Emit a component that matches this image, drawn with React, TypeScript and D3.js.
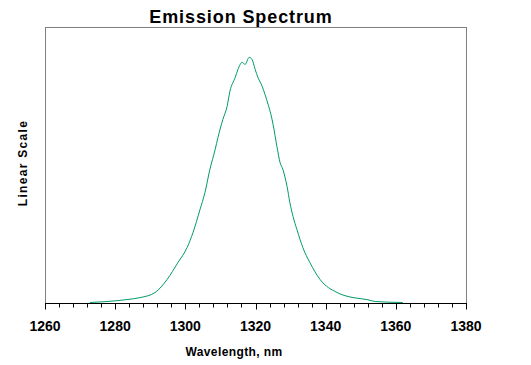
import React, { useEffect, useRef } from "react";
import * as d3 from "d3";

// wavelength (nm)
const wavelengths = [
  1272.8, 1277.7, 1283.4, 1287.1, 1291.4, 1294.8, 1297.9, 1300.5, 1302.2, 1304.2,
  1305.6, 1307.0, 1308.5, 1309.3, 1310.7, 1311.9, 1312.7, 1314.2, 1315.0, 1316.2,
  1317.0, 1318.2, 1319.0, 1319.9, 1320.7, 1321.9, 1322.7, 1323.6, 1324.4, 1325.0,
  1326.1, 1327.0, 1327.8, 1329.0, 1329.8, 1330.7, 1331.8, 1332.7, 1333.5, 1335.5,
  1338.4, 1343.2, 1347.8, 1351.8, 1354.1, 1362.0,
];
// normalized intensity
const intensity = [
  0, 0.004, 0.012, 0.02, 0.041, 0.094, 0.163, 0.224, 0.286, 0.38,
  0.449, 0.543, 0.624, 0.673, 0.747, 0.8, 0.861, 0.918, 0.951, 0.98,
  0.971, 1.0, 0.992, 0.951, 0.918, 0.882, 0.849, 0.808, 0.767, 0.727,
  0.637, 0.571, 0.543, 0.473, 0.408, 0.351, 0.298, 0.257, 0.224, 0.163,
  0.094, 0.041, 0.02, 0.012, 0.004, 0,
];
const xMajorTicks = [1260, 1280, 1300, 1320, 1340, 1360, 1380];

export default function App() {
  const ref = useRef<SVGSVGElement>(null);

  useEffect(() => {
    const width = 531;
    const height = 365;
    const margin = { top: 27, right: 65, bottom: 62, left: 45 };
    const font = "Arial, 'Liberation Sans', sans-serif";

    const svg = d3.select(ref.current);
    svg.selectAll("*").remove();

    const x = d3.scaleLinear().domain([1260, 1380]).range([margin.left, width - margin.right]);
    const y = d3.scaleLinear().domain([0, 1.126]).range([height - margin.bottom, margin.top]);

    // plot frame
    svg.append("rect")
      .attr("x", margin.left + 0.5)
      .attr("y", margin.top + 0.5)
      .attr("width", width - margin.right - margin.left)
      .attr("height", height - margin.bottom - margin.top)
      .attr("fill", "none")
      .attr("stroke", "#808080")
      .attr("stroke-width", 1);

    const data = wavelengths.map((w, i) => ({ w, v: intensity[i] }));
    const line = d3.line<{ w: number; v: number }>()
      .x((d) => x(d.w))
      .y((d) => y(d.v) - 0.5)
      .curve(d3.curveMonotoneX);

    svg.append("path")
      .datum(data)
      .attr("d", line)
      .attr("fill", "none")
      .attr("stroke", "#009a6a")
      .attr("stroke-width", 1);

    // x axis
    const axisY = height - margin.bottom + 0.5;
    const minorTicks = d3.range(1260, 1381, 4).filter((t) => !xMajorTicks.includes(t));
    const ax = svg.append("g").attr("transform", `translate(0.5,${axisY})`);
    ax.append("line")
      .attr("x1", x(1260) - 0.5).attr("x2", x(1380) + 0.5)
      .attr("stroke", "#000");
    ax.selectAll(".minor").data(minorTicks).enter().append("line")
      .attr("x1", (d) => Math.round(x(d))).attr("x2", (d) => Math.round(x(d)))
      .attr("y1", 0).attr("y2", 4)
      .attr("stroke", "#000");
    ax.selectAll(".major").data(xMajorTicks).enter().append("line")
      .attr("x1", (d) => Math.round(x(d))).attr("x2", (d) => Math.round(x(d)))
      .attr("y1", 0).attr("y2", 6)
      .attr("stroke", "#000");
    svg.selectAll(".xlabel").data(xMajorTicks).enter().append("text")
      .attr("x", (d) => x(d))
      .attr("y", 330.5)
      .attr("text-anchor", "middle")
      .style("font-family", font)
      .style("font-weight", "bold")
      .style("font-size", "14px")
      .text((d) => d);

    svg.append("text")
      .attr("x", 241)
      .attr("y", 23)
      .attr("text-anchor", "middle")
      .style("font-family", font)
      .style("font-weight", "bold")
      .style("font-size", "18px")
      .style("letter-spacing", "0.9px")
      .text("Emission Spectrum");

    svg.append("text")
      .attr("x", 234)
      .attr("y", 356)
      .attr("text-anchor", "middle")
      .style("font-family", font)
      .style("font-weight", "bold")
      .style("font-size", "12px")
      .style("letter-spacing", "0.4px")
      .text("Wavelength, nm");

    svg.append("text")
      .attr("transform", "translate(27,163) rotate(-90)")
      .attr("text-anchor", "middle")
      .style("font-family", font)
      .style("font-weight", "bold")
      .style("font-size", "12px")
      .style("letter-spacing", "1.3px")
      .text("Linear Scale");
  }, []);

  return (
    <svg
      ref={ref}
      width={531}
      height={365}
      style={{ position: "absolute", left: 0, top: 0, background: "#fff" }}
    />
  );
}
